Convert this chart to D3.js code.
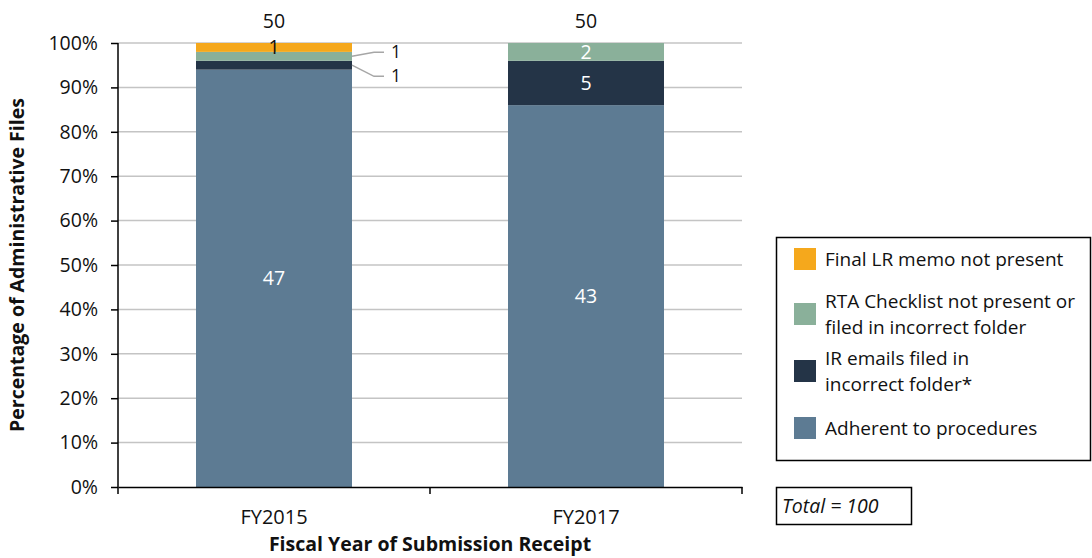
<!DOCTYPE html>
<html>
<head>
<meta charset="utf-8">
<script src="https://cdn.jsdelivr.net/npm/d3@7"></script>
<style>
  body { margin: 0; background: #fff; }
  text { font-family: "Open Sans", "Noto Sans", sans-serif; }
</style>
</head>
<body>
<div id="chart"></div>
<script>
/* data */
const years = ["FY2015", "FY2017"];
const adherent = [47, 43];
const irEmails = [1, 5];
const rtaChecklist = [1, 2];
const finalMemo = [1, 0];
const totals = [50, 50];
const seriesNames = ["Adherent to procedures", "IR emails filed in incorrect folder*", "RTA Checklist not present or filed in incorrect folder", "Final LR memo not present"];
const seriesColors = ["#5d7b93", "#243447", "#8ab09a", "#f5a81c"];
const yTicks = [0, 10, 20, 30, 40, 50, 60, 70, 80, 90, 100];

/* svg size */
const width = 1092;
const height = 558;
const margin = { left: 118, top: 43, right: 350, bottom: 71 };
const plotW = width - margin.left - margin.right;
const plotH = height - margin.top - margin.bottom;
const fs = 19.5;

const svg = d3.select("#chart").append("svg")
    .attr("width", width)
    .attr("height", height);

const rows = years.map(function(y, i) {
  return { year: y, s0: adherent[i], s1: irEmails[i], s2: rtaChecklist[i], s3: finalMemo[i], total: totals[i] };
});
const keys = ["s0", "s1", "s2", "s3"];

/* percentages */
const pctRows = rows.map(function(r) {
  const o = { year: r.year, total: r.total };
  keys.forEach(function(k) { o[k] = r[k] / r.total * 100; o["n" + k] = r[k]; });
  return o;
});

const stacked = d3.stack().keys(keys)(pctRows);

const x = d3.scaleBand()
    .domain(years)
    .range([margin.left, margin.left + plotW])
    .paddingInner(0.5)
    .paddingOuter(0.25);

const y = d3.scaleLinear()
    .domain([0, 100])
    .range([margin.top + plotH, margin.top]);

/* gridlines */
svg.append("g")
  .selectAll("line")
  .data(yTicks.filter(function(d) { return d > 0; }))
  .join("line")
    .attr("x1", margin.left)
    .attr("x2", margin.left + plotW)
    .attr("y1", function(d) { return y(d); })
    .attr("y2", function(d) { return y(d); })
    .attr("stroke", "#c4c4c4")
    .attr("stroke-width", 1.5);

/* bars */
const layers = svg.append("g")
  .selectAll("g")
  .data(stacked)
  .join("g")
    .attr("fill", function(d, i) { return seriesColors[i]; });

layers.selectAll("rect")
  .data(function(d) { return d; })
  .join("rect")
    .attr("x", function(d) { return x(d.data.year); })
    .attr("width", x.bandwidth())
    .attr("y", function(d) { return y(d[1]); })
    .attr("height", function(d) { return y(d[0]) - y(d[1]); });

/* axes */
const yAxis = d3.axisLeft(y)
    .tickValues(yTicks)
    .tickFormat(function(d) { return d + "%"; })
    .tickSize(7)
    .tickPadding(13);

const yG = svg.append("g")
    .attr("transform", "translate(" + margin.left + ",0)")
    .call(yAxis);
yG.select(".domain").attr("stroke", "#000").attr("stroke-width", 1.5).attr("d", "M0," + y(0) + "V" + y(100));
yG.selectAll(".tick line").attr("stroke", "#000").attr("stroke-width", 1.5);
yG.selectAll("text").attr("font-size", fs).attr("fill", "#111").style("font-family", "Open Sans");

const xAxis = d3.axisBottom(x).tickSize(0).tickPadding(23);
const xG = svg.append("g")
    .attr("transform", "translate(0," + y(0) + ")")
    .call(xAxis);
xG.select(".domain").attr("stroke", "#000").attr("stroke-width", 1.5);
xG.selectAll("text").attr("font-size", fs + 0.5).attr("fill", "#111");

/* category boundary ticks */
const bounds = [margin.left, (x(years[0]) + x.bandwidth() + x(years[1])) / 2, margin.left + plotW];
svg.append("g")
  .selectAll("line")
  .data(bounds)
  .join("line")
    .attr("x1", function(d) { return d; })
    .attr("x2", function(d) { return d; })
    .attr("y1", y(0))
    .attr("y2", y(0) + 7)
    .attr("stroke", "#000")
    .attr("stroke-width", 1.5);

/* axis titles */
svg.append("text")
    .attr("x", margin.left + plotW / 2)
    .attr("y", 551)
    .attr("text-anchor", "middle")
    .attr("font-size", fs)
    .attr("font-weight", "bold")
    .attr("fill", "#111")
    .text("Fiscal Year of Submission Receipt");

svg.append("text")
    .attr("transform", "translate(24," + (margin.top + plotH / 2) + ") rotate(-90)")
    .attr("text-anchor", "middle")
    .attr("font-size", fs)
    .attr("font-weight", "bold")
    .attr("fill", "#111")
    .text("Percentage of Administrative Files");

/* totals above bars */
svg.append("g")
  .selectAll("text")
  .data(pctRows)
  .join("text")
    .attr("x", function(d) { return x(d.year) + x.bandwidth() / 2; })
    .attr("y", 28)
    .attr("text-anchor", "middle")
    .attr("font-size", fs)
    .attr("fill", "#111")
    .text(function(d) { return d.total; });

/* segment labels */
const labelData = [];
stacked.forEach(function(layer, li) {
  layer.forEach(function(d) {
    const n = d.data["n" + keys[li]];
    if (n === 0) return;
    labelData.push({ li: li, year: d.data.year, n: n, y0: d[0], y1: d[1] });
  });
});

const cx = function(d) { return x(d.year) + x.bandwidth() / 2; };
const small = function(d) { return d.year === years[0] && (d.li === 1 || d.li === 2); };

svg.append("g")
  .selectAll("text")
  .data(labelData.filter(function(d) { return !small(d); }))
  .join("text")
    .attr("x", cx)
    .attr("y", function(d) { return y((d.y0 + d.y1) / 2); })
    .attr("dy", "0.35em")
    .attr("text-anchor", "middle")
    .attr("font-size", fs)
    .attr("fill", function(d) { return d.li === 3 ? "#111" : "#fff"; })
    .text(function(d) { return d.n; });

/* leader lines for thin FY2015 segments */
const outside = labelData.filter(small);
const barRight = x(years[0]) + x.bandwidth();
const leaderY = { 2: y(97.9), 1: y(92.5) };
const leader = svg.append("g");
outside.forEach(function(d) {
  const sy = y((d.y0 + d.y1) / 2);
  const ly = leaderY[d.li];
  leader.append("path")
      .attr("d", "M" + barRight + "," + sy + "L" + (barRight + 22) + "," + ly + "H" + (barRight + 32))
      .attr("fill", "none")
      .attr("stroke", "#a6a6a6")
      .attr("stroke-width", 1.5);
  leader.append("text")
      .attr("x", barRight + 39)
      .attr("y", ly)
      .attr("dy", "0.35em")
      .attr("font-size", 17.5)
      .attr("fill", "#111")
      .text(d.n);
});

/* legend */
const legend = svg.append("g");
legend.append("rect")
    .attr("x", 776.5)
    .attr("y", 237.5)
    .attr("width", 314)
    .attr("height", 223)
    .attr("fill", "#fff")
    .attr("stroke", "#000")
    .attr("stroke-width", 1.5);

const legendItems = [
  { i: 3, lines: ["Final LR memo not present"], sy: 248 },
  { i: 2, lines: ["RTA Checklist not present or", "filed in incorrect folder"], sy: 303 },
  { i: 1, lines: ["IR emails filed in", "incorrect folder*"], sy: 360 },
  { i: 0, lines: ["Adherent to procedures"], sy: 417 }
];
legendItems.forEach(function(it) {
  legend.append("rect")
      .attr("x", 794)
      .attr("y", it.sy)
      .attr("width", 22)
      .attr("height", 22)
      .attr("fill", seriesColors[it.i]);
  const t = legend.append("text")
      .attr("x", 825)
      .attr("y", it.lines.length === 1 ? it.sy + 18 : it.sy + 5)
      .attr("font-size", 19)
      .attr("fill", "#111");
  it.lines.forEach(function(l, k) {
    t.append("tspan").attr("x", 825).attr("dy", k === 0 ? 0 : 26).text(l);
  });
});

/* total box */
svg.append("rect")
    .attr("x", 776.5)
    .attr("y", 487.5)
    .attr("width", 135)
    .attr("height", 37)
    .attr("fill", "#fff")
    .attr("stroke", "#000")
    .attr("stroke-width", 1.5);
svg.append("text")
    .attr("x", 782)
    .attr("y", 513)
    .attr("font-size", fs)
    .attr("font-style", "italic")
    .attr("fill", "#111")
    .text("Total = 100");
</script>
</body>
</html>
